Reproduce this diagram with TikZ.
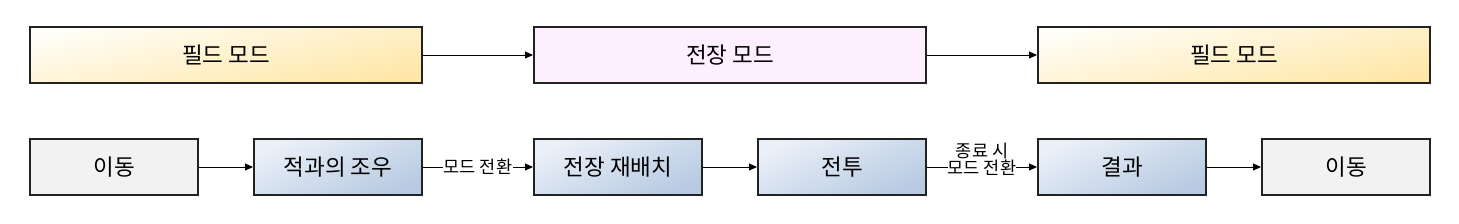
\documentclass[tikz,border=0pt]{standalone}
\usepackage{fontspec}
\setmainfont{Noto Sans CJK KR}
\usetikzlibrary{arrows.meta}
\definecolor{frame}{HTML}{222222}
\definecolor{yelA}{HTML}{FFFDF7}
\definecolor{yelB}{HTML}{FFE7A8}
\definecolor{pinkA}{HTML}{FDEFFD}
\definecolor{bluA}{HTML}{EAF0F8}
\definecolor{bluB}{HTML}{B8CAE2}
\definecolor{grayA}{HTML}{F2F2F2}
\tikzset{
  box/.style={draw=frame, line width=2pt, anchor=north west, inner sep=0pt, font=\fontsize{22.5}{24}\selectfont},
  bigbox/.style={box, minimum width=392pt, minimum height=56pt},
  smallbox/.style={box, minimum width=168pt, minimum height=56pt},
  fieldbox/.style={bigbox, top color=yelA, bottom color=yelB, shading angle=12},
  battlebox/.style={bigbox, fill=pinkA},
  stepbox/.style={smallbox, top color=bluA, bottom color=bluB, shading angle=25},
  movebox/.style={smallbox, fill=grayA},
  conn/.style={draw=black, line width=0.9pt, -{Triangle[length=8pt,width=7pt]}},
  lbl/.style={fill=white, inner sep=1pt, font=\fontsize{17.5}{17}\selectfont, align=center}
}
\begin{document}
\begin{tikzpicture}[x=1pt,y=-1pt]
\useasboundingbox (0,0) rectangle (1459,224);
\node[fieldbox] (f1) at (29,26) {필드 모드};
\node[battlebox] (b1) at (533,26) {전장 모드};
\node[fieldbox] (f2) at (1037,26) {필드 모드};
\draw[conn] (f1) -- (b1);
\draw[conn] (b1) -- (f2);

\node[movebox] (m1) at (29,138) {이동};
\node[stepbox] (s1) at (253,138) {적과의 조우};
\node[stepbox] (s2) at (533,138) {전장 재배치};
\node[stepbox] (s3) at (757,138) {전투};
\node[stepbox] (s4) at (1037,138) {결과};
\node[movebox] (m2) at (1261,138) {이동};
\draw[conn] (m1) -- (s1);
\draw[conn] (s1) -- node[lbl] {모드 전환} (s2);
\draw[conn] (s2) -- (s3);
\draw[conn] (s3) -- node[lbl, yshift=8pt, inner sep=0pt] {종료 시\\모드 전환} (s4);
\draw[conn] (s4) -- (m2);
\end{tikzpicture}
\end{document}
